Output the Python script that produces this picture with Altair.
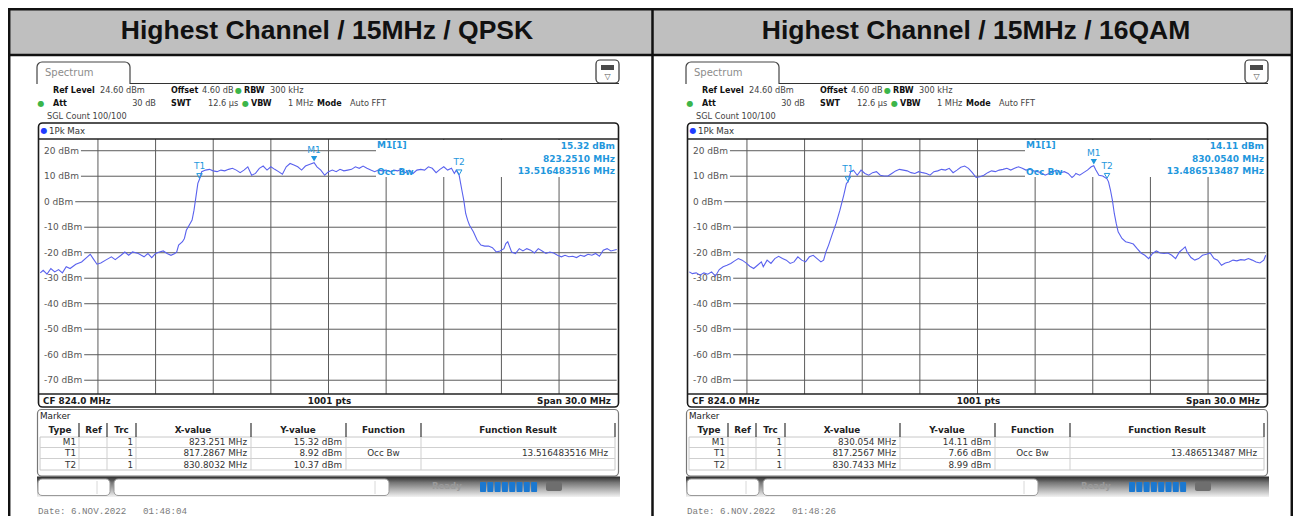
import altair as alt
import pandas as pd

# ---------------- data ----------------
TITLES = ["Highest Channel / 15MHz / QPSK", "Highest Channel / 15MHz / 16QAM"]

START_MHZ, STOP_MHZ = 809.0, 839.0
REF_LEVEL_DBM = 24.6
DB_RANGE = 100
GRID_MHZ = [812, 815, 818, 821, 824, 827, 830, 833, 836]
GRID_DBM = [20, 10, 0, -10, -20, -30, -40, -50, -60, -70]
GRID_LABELS = ["20 dBm", "10 dBm", "0 dBm", "-10 dBm", "-20 dBm", "-30 dBm",
               "-40 dBm", "-50 dBm", "-60 dBm", "-70 dBm"]

QPSK_MHZ = [809.0, 809.15, 809.35, 809.55, 809.75, 809.95, 810.15, 810.35, 810.55, 810.85,
            811.15, 811.45, 811.6, 811.75, 811.95, 812.15, 812.4, 812.7, 812.9, 813.2,
            813.4, 813.6, 813.8, 814.1, 814.4, 814.6, 814.8, 815.0, 815.2, 815.4,
            815.6, 815.8, 816.0, 816.1, 816.2, 816.4, 816.5, 816.6, 816.8, 816.9,
            817.0, 817.1, 817.2, 817.29, 817.4, 817.6, 817.8, 818.0, 818.2, 818.4,
            818.6, 818.8, 819.0, 819.2, 819.4, 819.6, 819.8, 820.0, 820.2, 820.4,
            820.6, 820.8, 821.0, 821.2, 821.4, 821.6, 821.8, 822.0, 822.2, 822.4,
            822.6, 822.8, 823.0, 823.25, 823.4, 823.6, 823.8, 824.0, 824.2, 824.4,
            824.6, 824.8, 825.0, 825.2, 825.4, 825.6, 825.8, 826.0, 826.2, 826.4,
            826.6, 826.8, 827.0, 827.2, 827.4, 827.6, 827.8, 828.0, 828.2, 828.4,
            828.6, 828.8, 829.0, 829.2, 829.4, 829.6, 829.8, 830.0, 830.2, 830.4,
            830.55, 830.65, 830.8, 830.94, 831.04, 831.14, 831.24, 831.34, 831.54, 831.74,
            831.93, 832.13, 832.33, 832.53, 832.73, 832.93, 833.13, 833.23, 833.33, 833.43,
            833.53, 833.73, 833.93, 834.12, 834.32, 834.52, 834.72, 834.92, 835.12, 835.32,
            835.52, 835.72, 835.92, 836.12, 836.31, 836.51, 836.71, 836.91, 837.11, 837.31,
            837.51, 837.71, 837.9, 838.1, 838.3, 838.5, 838.7, 839.0]
QPSK_DBM = [-27.9, -26.9, -28.4, -26.2, -27.5, -26.6, -27.9, -25.5, -26.2, -24.5,
            -23.6, -21.6, -20.6, -22.3, -24.5, -24.0, -22.9, -21.6, -22.7, -21.0,
            -19.7, -21.0, -19.7, -20.3, -21.6, -20.3, -21.9, -20.3, -19.7, -19.3,
            -20.3, -21.0, -20.3, -19.7, -17.0, -15.7, -14.4, -11.2, -8.5, -7.2,
            -3.3, 1.9, 7.2, 8.92, 11.8, 12.4, 12.7, 12.1, 11.8, 12.4,
            12.1, 12.7, 13.1, 12.4, 11.4, 12.4, 13.7, 10.4, 11.1, 13.1,
            14.0, 12.4, 13.7, 12.7, 11.8, 10.8, 13.7, 15.0, 14.4, 13.7,
            12.4, 14.0, 14.6, 15.32, 13.7, 12.4, 10.4, 11.8, 12.4, 11.8,
            12.7, 12.1, 12.4, 12.7, 13.7, 13.1, 14.0, 13.1, 12.4, 11.8,
            12.4, 12.1, 12.4, 11.8, 12.4, 12.1, 12.7, 11.4, 12.4, 11.1,
            12.4, 12.7, 12.4, 13.7, 13.1, 11.4, 12.7, 13.7, 12.4, 13.1,
            11.1, 12.4, 10.37, 4.6, 0.6, -4.6, -7.2, -9.2, -11.8, -15.1,
            -17.0, -17.4, -17.4, -18.0, -19.7, -19.3, -18.4, -16.4, -15.7, -17.7,
            -19.7, -20.3, -18.4, -19.3, -18.4, -19.0, -20.1, -18.4, -19.3, -20.3,
            -19.7, -20.1, -21.0, -21.6, -21.0, -21.6, -21.4, -21.9, -21.0, -21.4,
            -20.6, -21.0, -20.3, -21.4, -19.0, -18.4, -19.3, -18.7]

QAM_MHZ = [809.0, 809.16, 809.36, 809.56, 809.76, 809.96, 810.16, 810.36, 810.56, 810.76,
           810.96, 811.16, 811.36, 811.55, 811.75, 811.95, 812.15, 812.35, 812.55, 812.75,
           812.85, 813.05, 813.25, 813.45, 813.65, 813.85, 814.05, 814.25, 814.45, 814.65,
           814.85, 815.05, 815.25, 815.45, 815.65, 815.85, 815.99, 816.11, 816.25, 816.45,
           816.64, 816.84, 817.04, 817.18, 817.26, 817.4, 817.54, 817.74, 817.94, 818.14,
           818.34, 818.54, 818.74, 818.94, 819.14, 819.34, 819.54, 819.74, 819.94, 820.14,
           820.34, 820.54, 820.74, 820.94, 821.14, 821.34, 821.53, 821.73, 821.93, 822.13,
           822.33, 822.53, 822.73, 822.93, 823.13, 823.33, 823.53, 823.73, 823.93, 824.13,
           824.33, 824.53, 824.73, 824.93, 825.13, 825.33, 825.53, 825.73, 825.93, 826.13,
           826.33, 826.52, 826.72, 826.92, 827.12, 827.32, 827.52, 827.72, 827.92, 828.12,
           828.32, 828.52, 828.72, 828.92, 829.02, 829.12, 829.32, 829.52, 829.72, 829.92,
           830.05, 830.16, 830.32, 830.52, 830.74, 830.82, 830.92, 831.02, 831.12, 831.22,
           831.32, 831.52, 831.71, 831.91, 832.11, 832.31, 832.51, 832.71, 832.91, 833.11,
           833.31, 833.51, 833.71, 833.91, 834.11, 834.31, 834.51, 834.71, 834.81, 834.91,
           835.11, 835.31, 835.51, 835.71, 835.91, 836.11, 836.31, 836.5, 836.7, 836.9,
           837.1, 837.3, 837.5, 837.7, 837.9, 838.1, 838.3, 838.5, 838.7, 838.9, 839.0]
QAM_DBM = [-27.5, -28.2, -27.9, -28.8, -27.9, -28.4, -27.5, -29.2, -26.6, -25.5,
           -24.9, -24.2, -23.2, -22.3, -22.9, -24.0, -25.3, -26.2, -24.9, -23.6,
           -25.5, -22.9, -24.2, -22.3, -21.4, -22.3, -22.9, -24.2, -23.6, -21.6,
           -22.9, -23.6, -21.6, -21.0, -22.3, -23.6, -22.9, -19.7, -17.0, -12.5,
           -8.5, -3.3, 2.6, 7.2, 7.66, 11.8, 12.4, 10.4, 12.4, 11.1,
           10.4, 11.4, 11.8, 10.4, 10.1, 10.1, 11.1, 12.1, 12.7, 12.4,
           12.1, 11.4, 11.1, 11.8, 11.4, 11.1, 10.4, 11.8, 12.1, 12.7,
           12.4, 13.1, 11.4, 12.4, 13.5, 14.0, 13.1, 11.4, 9.5, 9.8,
           10.4, 11.4, 12.1, 11.8, 12.4, 12.7, 13.1, 12.4, 13.1, 13.7,
           13.1, 12.4, 12.7, 12.1, 11.8, 11.4, 10.4, 11.1, 11.8, 12.4,
           11.4, 11.8, 11.1, 9.5, 10.1, 11.1, 10.4, 11.4, 12.4, 13.7,
           14.11, 12.4, 10.4, 10.1, 8.99, 7.8, 4.6, 0.6, -4.6, -8.5,
           -11.8, -14.4, -15.7, -16.1, -16.6, -18.4, -20.1, -21.0, -22.3, -20.3,
           -19.3, -20.1, -20.3, -20.1, -21.0, -22.3, -19.7, -18.4, -17.7, -19.7,
           -21.9, -22.9, -22.3, -21.0, -20.6, -20.1, -22.3, -22.9, -24.9, -24.0,
           -23.6, -22.9, -23.2, -22.7, -22.9, -22.3, -22.9, -23.6, -24.0, -22.9, -21.0]

MARKER_NAMES = ["M1", "T1", "T2"]
QPSK_MARKER_MHZ = [823.251, 817.2867, 830.8032]
QPSK_MARKER_DBM = [15.32, 8.92, 10.37]
QAM_MARKER_MHZ = [830.054, 817.2567, 830.7433]
QAM_MARKER_DBM = [14.11, 7.66, 8.99]
QPSK_X_TEXT = ["823.251 MHz", "817.2867 MHz", "830.8032 MHz"]
QPSK_Y_TEXT = ["15.32 dBm", "8.92 dBm", "10.37 dBm"]
QAM_X_TEXT = ["830.054 MHz", "817.2567 MHz", "830.7433 MHz"]
QAM_Y_TEXT = ["14.11 dBm", "7.66 dBm", "8.99 dBm"]
QPSK_READOUT = ["15.32 dBm", "823.2510 MHz", "13.516483516 MHz"]
QAM_READOUT = ["14.11 dBm", "830.0540 MHz", "13.486513487 MHz"]
OCC_BW = ["13.516483516 MHz", "13.486513487 MHz"]
DATES = ["Date: 6.NOV.2022", "Date: 6.NOV.2022"]
TIMES = ["01:48:04", "01:48:26"]
TABLE_HEADERS = ["Type", "Ref", "Trc", "X-value", "Y-value", "Function", "Function Result"]
TRC = ["1", "1", "1"]
FOOTER = ["CF 824.0 MHz", "1001 pts", "Span 30.0 MHz"]

# ---------------- layout helpers ----------------
W, H = 1285, 508
SHIFT = 8  # reference pixel -> canvas pixel (page has an 8px margin)

BLUE_TXT = "#1f97dd"
TRACE = "#5a62ee"
GRID = "#5c5c5c"
DARK = "#1a1a1a"
GREEN = "#3cb54a"


def px(v):
    return v - SHIFT


def py(v):
    return v - SHIFT


def RX(f="x"):
    return alt.X(f"{f}:Q", scale=None, axis=None)


def RY(f="y"):
    return alt.Y(f"{f}:Q", scale=None, axis=None)


def rects(rows, **kw):
    df = pd.DataFrame([{"x": px(a), "y": py(b), "x2": px(c), "y2": py(d)} for a, b, c, d in rows])
    return alt.Chart(df).mark_rect(**kw).encode(x=RX("x"), y=RY("y"), x2="x2:Q", y2="y2:Q")


def rules(rows, color, width):
    df = pd.DataFrame([{"x": px(a), "y": py(b), "x2": px(c), "y2": py(d)} for a, b, c, d in rows])
    return alt.Chart(df).mark_rule(color=color, strokeWidth=width).encode(
        x=RX("x"), y=RY("y"), x2="x2:Q", y2="y2:Q")


def texts(rows, **kw):
    df = pd.DataFrame([{"x": px(a), "y": py(b), "t": s} for a, b, s in rows])
    base = dict(baseline="middle", fontSize=9, font="DejaVu Sans", color=DARK, align="left")
    base.update(kw)
    return alt.Chart(df).mark_text(**base).encode(x=RX("x"), y=RY("y"), text="t:N")


CW = {"0": 5.72, "1": 5.72, "2": 5.72, "3": 5.72, "4": 5.72, "5": 5.72, "6": 5.72,
      "7": 5.72, "8": 5.72, "9": 5.72, "-": 3.25, " ": 2.86, "d": 5.71, "B": 6.17, "m": 8.77}


def label_w(s):
    return sum(CW.get(c, 5.5) for c in s)


def panel(dx, mhz, dbm, mk_mhz, mk_dbm, readout, xtext, ytext, occ, date, time):
    L = []
    xs = alt.Scale(domain=[START_MHZ, STOP_MHZ], range=[px(40.3 + dx), px(616.7 + dx)],
                   nice=False, zero=False)
    ys = alt.Scale(domain=[REF_LEVEL_DBM - DB_RANGE, REF_LEVEL_DBM], range=[py(394), py(139)],
                   nice=False, zero=False)

    # Spectrum tab + settings icon
    L.append(rects([(37 + dx, 62, 130 + dx, 96)], fill="white", stroke="#444", strokeWidth=1.2,
                   cornerRadius=5))
    L.append(rects([(36 + dx, 84, 131 + dx, 98)], fill="white"))
    L.append(rules([(130 + dx, 83.5, 619 + dx, 83.5)], "#333", 1.2))
    L.append(rects([(596 + dx, 60, 619 + dx, 83)], fill="white", stroke="#333", strokeWidth=1.2,
                   cornerRadius=4))
    L.append(rects([(601 + dx, 65, 614 + dx, 70)], fill="#4a4a4a"))
    L.append(texts([(607.5 + dx, 76.5, "▽")], fontSize=8, color="#555", align="center"))
    L.append(texts([(45 + dx, 73, "Spectrum")], fontSize=10, color="#8c8c8c"))

    # Settings block
    L.append(texts([(53 + dx, 91, "Ref Level"), (171 + dx, 91, "Offset"), (244 + dx, 91, "RBW"),
                    (53 + dx, 104, "Att"), (171 + dx, 104, "SWT"), (251 + dx, 104, "VBW"),
                    (317 + dx, 104, "Mode")], fontWeight="bold", color="#111", fontSize=8))
    L.append(texts([(100 + dx, 91, "24.60 dBm"), (202 + dx, 91, "4.60 dB"), (270 + dx, 91, "300 kHz"),
                    (208 + dx, 104, "12.6 µs"), (288 + dx, 104, "1 MHz"), (350 + dx, 104, "Auto FFT"),
                    (47 + dx, 117, "SGL Count 100/100")], color="#444", fontSize=8.2))
    L.append(texts([(156 + dx, 104, "30 dB")], color="#444", fontSize=8.2, align="right"))
    L.append(texts([(238.5 + dx, 91, "●"), (41 + dx, 104, "●"), (245.5 + dx, 104, "●")],
                   color=GREEN, fontSize=8, align="center"))

    # Trace window box
    L.append(rects([(38.5 + dx, 123, 618.5 + dx, 407)], fill="white", stroke="#1a1a1a",
                   strokeWidth=1.6, cornerRadius=4))
    L.append(texts([(44 + dx, 131, "●")], color="#1f3cff", fontSize=8, align="center"))
    L.append(texts([(49 + dx, 131, "1Pk Max")], color="#333", fontSize=8.6))

    # grid (through the scales)
    gv = pd.DataFrame({"f": GRID_MHZ})
    L.append(alt.Chart(gv).mark_rule(color=GRID, strokeWidth=1).encode(
        x=alt.X("f:Q", scale=xs, axis=None), y=alt.value(py(139)), y2=alt.value(py(394))))
    gh = pd.DataFrame({"db": GRID_DBM, "label": GRID_LABELS,
                       "x0": [px(44 + dx + label_w(s) + 2) for s in GRID_LABELS]})
    L.append(alt.Chart(gh).mark_rule(color=GRID, strokeWidth=1).encode(
        y=alt.Y("db:Q", scale=ys, axis=None), x=RX("x0"), x2=alt.value(px(616.7 + dx))))
    L.append(alt.Chart(gh).mark_text(align="left", baseline="middle", fontSize=9,
                                     font="DejaVu Sans", color="#555").encode(
        y=alt.Y("db:Q", scale=ys, axis=None), x=alt.value(px(44 + dx)), text="label:N"))
    # readout area mask
    L.append(rects([(376 + dx, 140, 617 + dx, 177)], fill="white"))
    # frame lines
    L.append(rules([(38.5 + dx, 139, 618.5 + dx, 139), (38.5 + dx, 394, 618.5 + dx, 394)], "#222", 1.3))

    # trace
    tr = pd.DataFrame({"f": mhz, "db": dbm})
    L.append(alt.Chart(tr).mark_line(color=TRACE, strokeWidth=1.1).encode(
        x=alt.X("f:Q", scale=xs, axis=None), y=alt.Y("db:Q", scale=ys, axis=None), order="f:Q"))

    # markers
    mk = pd.DataFrame({"f": mk_mhz, "db": mk_dbm, "name": MARKER_NAMES})
    enc = dict(x=alt.X("f:Q", scale=xs, axis=None), y=alt.Y("db:Q", scale=ys, axis=None))
    L.append(alt.Chart(mk.iloc[:1]).mark_point(shape="triangle-down", filled=True, size=40,
                                                color=BLUE_TXT, yOffset=-4, opacity=1).encode(**enc))
    L.append(alt.Chart(mk.iloc[1:]).mark_point(shape="triangle-down", filled=False, size=30,
                                                color=BLUE_TXT, strokeWidth=1, yOffset=-3,
                                                opacity=1).encode(**enc))
    L.append(alt.Chart(mk).mark_text(fontSize=9, font="DejaVu Sans", color=BLUE_TXT, dy=-13,
                                     align="center", baseline="middle").encode(text="name:N", **enc))

    # readouts
    L.append(texts([(377 + dx, 145, "M1[1]"), (377 + dx, 172, "Occ Bw")], color=BLUE_TXT,
                   fontWeight="bold", fontSize=9))
    L.append(texts([(615 + dx, 146, readout[0]), (615 + dx, 158.5, readout[1]),
                    (615 + dx, 171, readout[2])], color=BLUE_TXT, fontWeight="bold", fontSize=9,
                   align="right"))

    # footer of trace window
    L.append(texts([(43 + dx, 401, FOOTER[0])], fontWeight="bold", fontSize=8.8))
    L.append(texts([(329.5 + dx, 401, FOOTER[1])], fontWeight="bold", fontSize=8.8, align="center"))
    L.append(texts([(611 + dx, 401, FOOTER[2])], fontWeight="bold", fontSize=8.8, align="right"))

    # marker table
    L.append(rects([(37.5 + dx, 409.5, 618.5 + dx, 476)], fill="white", stroke="#777",
                   strokeWidth=1.2, cornerRadius=4))
    L.append(texts([(40 + dx, 416, "Marker")], color="#222", fontSize=8.8))
    cols = [40, 79, 107, 136, 251, 346, 421, 615]
    L.append(rects([(40 + dx, 437, 615 + dx, 470)], fill="white", stroke="#c8c8c8", strokeWidth=1))
    L.append(rules([(40 + dx, 447.5, 615 + dx, 447.5), (40 + dx, 458.5, 615 + dx, 458.5)]
                   + [(c + dx, 437, c + dx, 470) for c in cols[1:-1]], "#cfcfcf", 1))
    L.append(rules([(c + dx, 423, c + dx, 437) for c in cols[1:]], "#333", 1.2))
    centers = [60, 93.5, 121.5, 193, 298, 383.5, 518]
    L.append(texts([(c + dx, 430, h) for c, h in zip(centers, TABLE_HEADERS)], fontWeight="bold",
                   fontSize=8.8, align="center", color="#222"))
    rows_y = [442, 453, 464.5]
    right_cells = []
    for i, y in enumerate(rows_y):
        right_cells += [(76 + dx, y, MARKER_NAMES[i]), (133 + dx, y, TRC[i]),
                        (247 + dx, y, xtext[i]), (342 + dx, y, ytext[i])]
    right_cells.append((608 + dx, rows_y[1], occ))
    L.append(texts(right_cells, fontSize=8.8, align="right", color="#333"))
    L.append(texts([(383.5 + dx, rows_y[1], "Occ Bw")], fontSize=8.8, align="center", color="#333"))

    # status bar
    grad = {"gradient": "linear", "x1": 0, "y1": 0, "x2": 0, "y2": 1,
            "stops": [{"offset": 0, "color": "#2a2a2a"}, {"offset": 0.3, "color": "#777777"},
                      {"offset": 1, "color": "#f2f2f2"}]}
    L.append(rects([(37 + dx, 476.5, 620 + dx, 497)], fill=grad))
    L.append(rects([(38 + dx, 479, 110 + dx, 495.5), (114 + dx, 479, 389 + dx, 495.5)], fill="white",
                   stroke="#9a9a9a", strokeWidth=1, cornerRadius=4))
    L.append(rules([(97 + dx, 481, 97 + dx, 494), (375 + dx, 481, 375 + dx, 494)], "#d8d8d8", 1))
    L.append(texts([(432 + dx, 486, "Ready")], color="#9a9a9a", fontSize=8.5, fontWeight="bold"))
    L.append(rects([(480 + dx + 7.3 * i, 482, 486 + dx + 7.3 * i, 492) for i in range(8)],
                   fill="#1b78d0", cornerRadius=1))
    L.append(rects([(546 + dx, 482, 562 + dx, 491)], fill="#6e6e6e", cornerRadius=2))

    # date line
    L.append(texts([(38 + dx, 511, date), (143 + dx, 511, time)], font="Liberation Mono",
                   fontSize=9.2, color="#7a7a7a"))
    return L


layers = []
# outer frame and headers
layers.append(rects([(8, 8, 1293, 516)], fill="white"))
layers.append(rects([(8, 3, 1293, 55)], fill="#bfbfbf"))
layers.append(texts([(327, 31, TITLES[0]), (976, 31, TITLES[1])], font="Liberation Sans",
                    fontSize=26.5, fontWeight="bold", color="#111", align="center"))

layers += panel(0, QPSK_MHZ, QPSK_DBM, QPSK_MARKER_MHZ, QPSK_MARKER_DBM, QPSK_READOUT,
                QPSK_X_TEXT, QPSK_Y_TEXT, OCC_BW[0], DATES[0], TIMES[0])
layers += panel(649, QAM_MHZ, QAM_DBM, QAM_MARKER_MHZ, QAM_MARKER_DBM, QAM_READOUT,
                QAM_X_TEXT, QAM_Y_TEXT, OCC_BW[1], DATES[1], TIMES[1])

layers.append(rules([(9.2, 8, 9.2, 516), (1291.8, 8, 1291.8, 516), (652.5, 8, 652.5, 516),
                     (8, 9.2, 1293, 9.2), (8, 55, 1293, 55)], "#111", 2.5))

chart = alt.layer(*layers).resolve_scale(x="independent", y="independent").properties(
    width=W, height=H, autosize=alt.AutoSizeParams(type="none"), padding=0
).configure_view(stroke=None)

chart.save("out.html", embed_options={"renderer": "svg", "actions": False})
